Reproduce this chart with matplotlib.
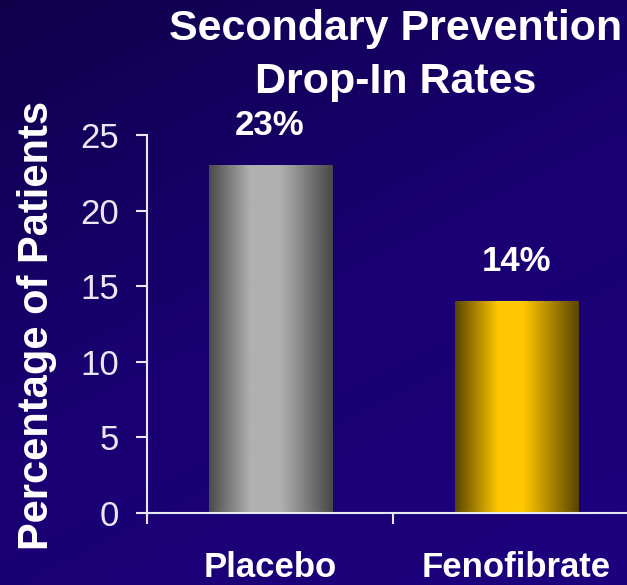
import numpy as np
import matplotlib
matplotlib.use("Agg")
import matplotlib.pyplot as plt
from matplotlib.colors import LinearSegmentedColormap

plt.rcParams['font.family'] = ['Liberation Sans', 'DejaVu Sans']

# drop-in rates, secondary prevention
groups = ['Placebo', 'Fenofibrate']
rates = [23, 14]
rate_labels = ['23%', '14%']
yticks = [0, 5, 10, 15, 20, 25]

W, H = 627, 585
fig = plt.figure(figsize=(W / 100, H / 100), dpi=100)

# background: dark navy fading to indigo towards bottom right
bg = fig.add_axes([0, 0, 1, 1], zorder=-10)
gx, gy = np.meshgrid(np.linspace(0, 1, 200), np.linspace(0, 1, 200))
t = 0.35 * gx + 0.65 * gy
bg_cmap = LinearSegmentedColormap.from_list('bg', ['#10004c', '#1a0072', '#1d007e'])
bg.imshow(t, cmap=bg_cmap, aspect='auto', extent=[0, 1, 1, 0])
bg.set_axis_off()

ax = fig.add_axes([147 / W, 72 / H, 492 / W, 378 / H])
ax.set_facecolor('none')

xpos = np.arange(len(groups)) + 0.5
bars = ax.bar(xpos, rates, width=0.5, color='none', edgecolor='none')

# cylinder-like shading across each bar
cyl_gray = LinearSegmentedColormap.from_list(
    'g', [(0, '#4a4a4a'), (0.33, '#b0b0b0'), (0.58, '#b0b0b0'), (1, '#484848')])
cyl_gold = LinearSegmentedColormap.from_list(
    'y', [(0, '#5a4400'), (0.35, '#ffc800'), (0.55, '#ffc800'), (1, '#5a4400')])
grad = np.linspace(0, 1, 256).reshape(1, -1)
for b, cm in zip(bars, [cyl_gray, cyl_gold]):
    x0, y0 = b.get_x(), b.get_y()
    ax.imshow(grad, cmap=cm, aspect='auto',
              extent=[x0, x0 + b.get_width(), y0, y0 + b.get_height()], zorder=2)

for x, v, lab in zip(xpos, rates, rate_labels):
    ax.annotate(lab, (x, v), xytext=(0, 17), textcoords='offset points',
                ha='center', va='bottom', color='white', fontsize=25, fontweight='bold')

ax.set_xlim(0, 2)
ax.set_ylim(0, 25)
ax.set_yticks(yticks)
ax.set_xticks([0, 1, 2])
ax.set_xticklabels([])
ax.tick_params(axis='y', colors='#e8e8f4', labelcolor='#e8e8f4', labelsize=25,
               length=8, width=1.5, pad=12, direction='out')
ax.tick_params(axis='x', colors='#e8e8f4', length=8, width=1.5, direction='out')
for side in ['top', 'right']:
    ax.spines[side].set_visible(False)
for side in ['left', 'bottom']:
    ax.spines[side].set_color('#e8e8f4')
    ax.spines[side].set_linewidth(1.5)

for x, g in zip(xpos, groups):
    ax.text(x, -0.1, g, transform=ax.get_xaxis_transform(), ha='center', va='top',
            color='white', fontsize=25, fontweight='bold')

fig.text(37 / W, 1 - 325 / H, 'Percentage of Patients', rotation=90, ha='center', va='center',
         color='white', fontsize=30, fontweight='bold')
fig.text(396 / W, 1 - 29 / H, 'Secondary Prevention', ha='center', va='center',
         color='white', fontsize=31, fontweight='bold')
fig.text(396 / W, 1 - 82 / H, 'Drop-In Rates', ha='center', va='center',
         color='white', fontsize=31, fontweight='bold')

fig.savefig('out.png', dpi=100)
